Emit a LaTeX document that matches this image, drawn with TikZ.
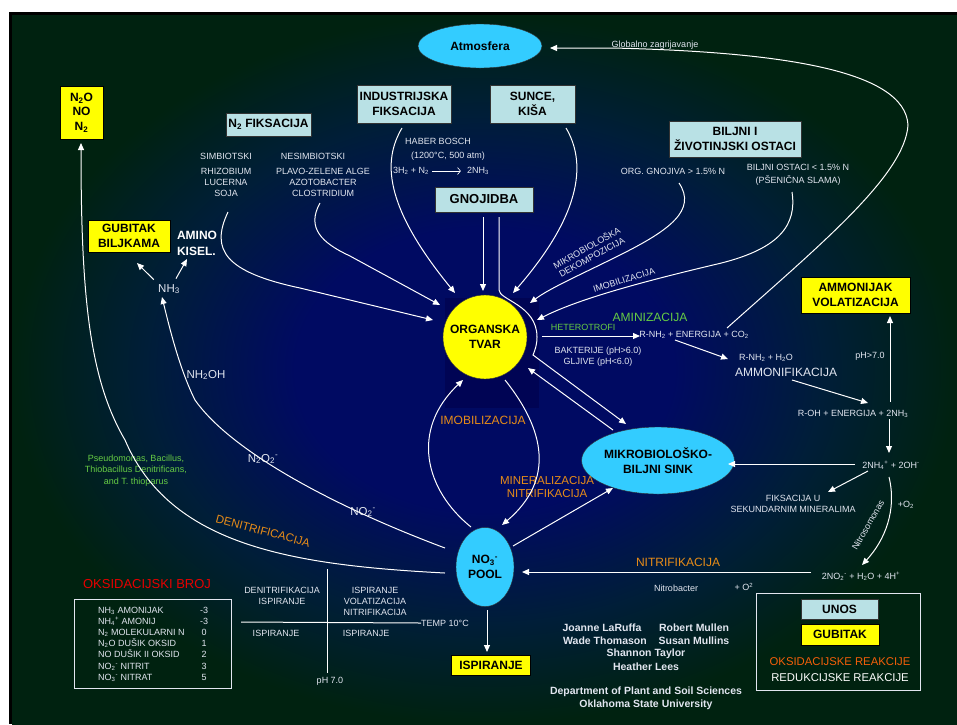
\documentclass[tikz,border=0pt]{standalone}
\usepackage{fontspec}
\setmainfont{Liberation Sans}
\usetikzlibrary{arrows.meta,shapes.geometric}

\definecolor{bgnavy}{RGB}{0,10,98}
\definecolor{bgteal}{RGB}{0,30,56}
\definecolor{bggreen}{RGB}{0,34,16}
\definecolor{omshade}{RGB}{0,4,84}
\definecolor{poolcyan}{RGB}{51,204,255}
\definecolor{inputblue}{RGB}{185,225,229}
\definecolor{lossyellow}{RGB}{255,255,0}
\definecolor{procorange}{RGB}{232,140,24}
\definecolor{bugsgreen}{RGB}{102,204,68}
\definecolor{oxred}{RGB}{230,0,0}
\definecolor{oxorange}{RGB}{245,95,10}
\definecolor{notegrey}{RGB}{226,230,240}

\pgfdeclareradialshading{slidebg}{\pgfpoint{0bp}{0bp}}{color(0bp)=(bgnavy); color(10bp)=(bgnavy); color(18bp)=(bgteal); color(25bp)=(bggreen); color(50bp)=(bggreen)}

\tikzset{
  flow/.style={draw=white, line width=1pt, -{Triangle[length=7pt,width=6pt]}},
  bare/.style={draw=white, line width=1pt},
  inbox/.style={draw=black!80, fill=inputblue, line width=0.8pt, inner sep=0pt, align=center, font=\bfseries\fontsize{12}{14.5}\selectfont},
  lossbox/.style={inbox, fill=lossyellow, draw=black},
  pool/.style={ellipse, draw=black!80, fill=poolcyan, inner sep=0pt, align=center, font=\bfseries\fontsize{12}{14.5}\selectfont},
  note/.style={text=notegrey, inner sep=0pt, align=center, font=\fontsize{9}{11}\selectfont},
  chem/.style={text=notegrey, inner sep=0pt, font=\fontsize{11.5}{13}\selectfont},
  stage/.style={text=procorange, inner sep=0pt, align=center, font=\fontsize{12}{13.5}\selectfont},
  credit/.style={text=notegrey, inner sep=0pt, font=\bfseries\fontsize{10.5}{12}\selectfont},
}

\begin{document}
\begin{tikzpicture}[x=1pt, y=-1pt]
    \useasboundingbox (0,0) rectangle (957,724);
    \fill [black] (9,12) rectangle (957,724);
    \shade [shading=slidebg] (12,15) rectangle (957,724);
    \fill [omshade] (445,298) rectangle (539,408);

    \path node (atm) at (480,46) [pool, minimum width=124pt, minimum height=44pt] {Atmosfera}
          node (gases) at (81.5,112.5) [lossbox, minimum width=43pt, minimum height=53pt] {N\textsubscript{2}O\\NO\\N\textsubscript{2}}
          node (plantloss) at (129,236) [lossbox, minimum width=82pt, minimum height=32pt] {GUBITAK\\BILJKAMA}
          node (nfix) at (268.5,124.5) [inbox, minimum width=85pt, minimum height=23pt] {N\textsubscript{2} FIKSACIJA}
          node (indfix) at (404,104) [inbox, minimum width=94pt, minimum height=38pt] {INDUSTRIJSKA\\FIKSACIJA}
          node (rain) at (532.5,104) [inbox, minimum width=85pt, minimum height=38pt] {SUNCE,\\KIŠA}
          node (fert) at (484,199.5) [inbox, minimum width=98pt, minimum height=25pt, font=\bfseries\fontsize{13}{15}\selectfont] {GNOJIDBA}
          node (residue) at (735,139) [inbox, minimum width=132pt, minimum height=36pt] {BILJNI I\\ŽIVOTINJSKI OSTACI}
          node (volat) at (855.5,295) [lossbox, minimum width=109pt, minimum height=36pt] {AMMONIJAK\\VOLATIZACIJA}
          node (leach) at (491,665) [lossbox, minimum width=79pt, minimum height=20pt] {ISPIRANJE}
          node (om) at (485,337) [circle, draw=black!80, fill=lossyellow, minimum size=84pt, inner sep=0pt, align=center, font=\bfseries\fontsize{12}{14.5}\selectfont] {ORGANSKA\\TVAR}
          node (sink) at (658,460.5) [pool, minimum width=128pt, minimum height=67pt] {MIKROBIOLOŠKO-\\BILJNI SINK}
          node (nitrate) at (485,567) [pool, minimum width=58pt, minimum height=79pt] {NO\textsubscript{3}\textsuperscript{-}\\POOL};

    \path node (simb) at (226,156) [note] {SIMBIOTSKI}
          node (simblist) at (226,182) [note] {RHIZOBIUM\\LUCERNA\\SOJA}
          node (nesimb) at (313,156) [note] {NESIMBIOTSKI}
          node (nesimblist) at (323,182) [note] {PLAVO-ZELENE ALGE\\AZOTOBACTER\\CLOSTRIDIUM}
          node (haber) at (438,141) [note] {HABER BOSCH}
          node (haberpt) at (448,156) [note] {(1200°C, 500 atm)}
          node (haberin) at (411,171) [note] {3H\textsubscript{2} + N\textsubscript{2}}
          node (haberout) at (478,171) [note] {2NH\textsubscript{3}}
          node (warming) at (655,45) [note] {Globalno zagrijavanje}
          node (manure) at (673,171) [note] {ORG. GNOJIVA > 1.5\% N}
          node (straw) at (798,175) [note, font=\fontsize{9}{13}\selectfont] {BILJNI OSTACI < 1.5\% N\\(PŠENIČNA SLAMA)}
          node (decomp) at (589,252) [note, rotate=29, font=\fontsize{9}{10.5}\selectfont] {MIKROBIOLOŠKA\\DEKOMPOZICIJA}
          node (immob) at (624,280) [note, rotate=17] {IMOBILIZACIJA};

    \path node (hetero) at (583,327) [note, text=bugsgreen] {HETEROTROFI}
          node (aminiz) at (650,317) [stage, text=bugsgreen] {AMINIZACIJA}
          node (rnh2) at (694,335) [note] {R-NH\textsubscript{2} + ENERGIJA + CO\textsubscript{2}}
          node (microbes) at (598,356.5) [note] {BAKTERIJE (pH>6.0)\\GLJIVE (pH<6.0)}
          node (rnh2w) at (766,358) [note] {R-NH\textsubscript{2} + H\textsubscript{2}O}
          node (ammonif) at (786,372) [stage, text=notegrey] {AMMONIFIKACIJA}
          node (roh) at (853,414) [note] {R-OH + ENERGIJA + 2NH\textsubscript{3}}
          node (phhigh) at (870,356) [note] {pH>7.0}
          node (nh4) at (891,465) [note] {2NH\textsubscript{4}\textsuperscript{+} + 2OH\textsuperscript{-}}
          node (mineralfix) at (793,504) [note] {FIKSACIJA U\\SEKUNDARNIM MINERALIMA}
          node (nitroso) at (868,525) [note, rotate=60] {Nitrosomonas}
          node (oxygen) at (906,505) [note] {+O\textsubscript{2}}
          node (no2) at (861,576) [note] {2NO\textsubscript{2}\textsuperscript{-} + H\textsubscript{2}O + 4H\textsuperscript{+}}
          node (nitrif) at (678,562) [stage] {NITRIFIKACIJA}
          node (nitrobac) at (676,588) [note] {Nitrobacter}
          node (oxsup) at (744,587) [note] {+ O\textsuperscript{2}}
          node (mineral) at (547,487) [stage, font=\fontsize{11.5}{13.5}\selectfont] {MINERALIZACIJA\\NITRIFIKACIJA}
          node (immobc) at (483,420) [stage] {IMOBILIZACIJA}
          node (denit) at (263,531) [stage, rotate=-15, font=\fontsize{11.5}{13}\selectfont] {DENITRIFICACIJA};

    \path node (nh3) at (169,289) [chem] {NH\textsubscript{3}}
          node (aminoacid) at (197,243) [text=white, inner sep=0pt, align=left, font=\bfseries\fontsize{12}{16}\selectfont] {AMINO\\KISEL.}
          node (nh2oh) at (206,375) [chem] {NH\textsubscript{2}OH}
          node (n2o2) at (263,459) [chem] {N\textsubscript{2}O\textsubscript{2}\textsuperscript{-}}
          node (no2b) at (363,512) [chem] {NO\textsubscript{2}\textsuperscript{-}}
          node (bugs) at (136,470.5) [note, text=bugsgreen, font=\fontsize{9}{11.5}\selectfont] {Pseudomonas, Bacillus,\\Thiobacillus Denitrificans,\\and T. thioparus};

    \path node (oxtitle) at (147,584) [text=oxred, inner sep=0pt, font=\fontsize{13}{15}\selectfont] {OKSIDACIJSKI BROJ}
          node (oxtable) at (98,644.5) [anchor=west, text=notegrey, inner sep=0pt, font=\fontsize{9}{11.2}\selectfont]
            {\begin{tabular}{@{}p{100pt}@{}l@{}}
             NH\textsubscript{3} AMONIJAK & \makebox[12pt]{-3}\\
             NH\textsubscript{4}\textsuperscript{+} AMONIJ & \makebox[12pt]{-3}\\
             N\textsubscript{2} MOLEKULARNI N & \makebox[12pt]{0}\\
             N\textsubscript{2}O DUŠIK OKSID & \makebox[12pt]{1}\\
             NO DUŠIK II OKSID & \makebox[12pt]{2}\\
             NO\textsubscript{2}\textsuperscript{-} NITRIT & \makebox[12pt]{3}\\
             NO\textsubscript{3}\textsuperscript{-} NITRAT & \makebox[12pt]{5}
             \end{tabular}}
          node (q1) at (282,595.5) [note] {DENITRIFIKACIJA\\ISPIRANJE}
          node (q2) at (375,601) [note] {ISPIRANJE\\VOLATIZACIJA\\NITRIFIKACIJA}
          node (q3) at (276,633) [note] {ISPIRANJE}
          node (q4) at (366,633) [note] {ISPIRANJE}
          node (temp) at (421,623) [note, anchor=west] {TEMP 10°C}
          node (ph) at (330,681) [note] {pH 7.0};
    \draw [notegrey, line width=0.8pt] (74,599) rectangle (231,688);

    \path node (author1) at (602,628) [credit] {Joanne LaRuffa}
          node (author2) at (694,628) [credit] {Robert Mullen}
          node (author3) at (605,641) [credit] {Wade Thomason}
          node (author4) at (694,641) [credit] {Susan Mullins}
          node (author5) at (646,654) [credit] {Shannon Taylor}
          node (author6) at (646,667) [credit] {Heather Lees}
          node (dept) at (646,692) [credit] {Department of Plant and Soil Sciences}
          node (univ) at (646,705) [credit] {Oklahoma State University};

    \draw [notegrey, line width=0.8pt] (756,593) rectangle (920,690);
    \path node (unos) at (839.5,609) [inbox, minimum width=77pt, minimum height=20pt] {UNOS}
          node (gubitak) at (840,634.5) [lossbox, minimum width=78pt, minimum height=21pt] {GUBITAK}
          node (oxreact) at (840,662) [text=oxorange, inner sep=0pt, font=\fontsize{11.3}{13}\selectfont] {OKSIDACIJSKE REAKCIJE}
          node (redreact) at (840,678) [text=white, inner sep=0pt, font=\fontsize{11.3}{13}\selectfont] {REDUKCIJSKE REAKCIJE};

    \path coordinate (simbfoot) at (228,212)
          coordinate (simbtip) at (433,320)
          coordinate (nesimbfoot) at (320,203)
          coordinate (nesimbtip) at (440,305)
          coordinate (indfixfoot) at (402,128)
          coordinate (indfixtip) at (455,293)
          coordinate (rainfoot) at (566,128)
          coordinate (raintip) at (513,293)
          coordinate (fertleft) at (483,217)
          coordinate (ferttip) at (483,291)
          coordinate (fertright) at (499,217)
          coordinate (manurefoot) at (679,183)
          coordinate (manuretip) at (530,303)
          coordinate (strawfoot) at (792,192)
          coordinate (strawtip) at (537,320)
          coordinate (warmfoot) at (727,328)
          coordinate (atmtip) at (550,48)
          coordinate (omout) at (542,336)
          coordinate (aminotip) at (640,336)
          coordinate (aminofoot) at (675,340)
          coordinate (ammontip) at (728,359)
          coordinate (ammonfoot) at (792,380)
          coordinate (rohtip) at (868,403)
          coordinate (rohup) at (890,402)
          coordinate (volattip) at (890,316)
          coordinate (rohdown) at (889,419)
          coordinate (nh4tip) at (889,453)
          coordinate (nh4left) at (855,464)
          coordinate (sinktip) at (728,464)
          coordinate (nh4fixfoot) at (868,471)
          coordinate (fixtip) at (828,492)
          coordinate (nh4foot) at (889,477)
          coordinate (no2tip) at (862,565)
          coordinate (no2left) at (811,572)
          coordinate (pooltip) at (522,572)
          coordinate (sinkin) at (626,424)
          coordinate (sinkout) at (613,430)
          coordinate (omin) at (528,368)
          coordinate (poolout) at (513,546)
          coordinate (sinkbelow) at (613,488)
          coordinate (imobfoot) at (471,527)
          coordinate (imobtip) at (463,380)
          coordinate (minerfoot) at (505,380)
          coordinate (minertip) at (502,525)
          coordinate (denitfoot) at (445,573)
          coordinate (gasestip) at (81,143)
          coordinate (nitrfoot) at (445,548)
          coordinate (nh3tip) at (162,297)
          coordinate (leachfoot) at (487,610)
          coordinate (leachtip) at (487,652)
          coordinate (plantlosstip) at (137,263)
          coordinate (aminoacidtip) at (187,259)
          coordinate (templeft) at (241,622)
          coordinate (phtop) at (327,569)
          coordinate (phfoot) at (327,673);

    \draw [flow] (simbfoot) .. controls (210,250) and (225,272) .. (300,288) -- (simbtip);
    \draw [flow] (nesimbfoot) .. controls (306,228) and (322,243) .. (350,256) -- (nesimbtip);
    \draw [flow] (indfixfoot) .. controls (383,160) and (383,205) .. (indfixtip);
    \draw [flow] (rainfoot) .. controls (585,160) and (585,210) .. (raintip);
    \draw [flow] (fertleft) -- (ferttip);
    \draw [flow] (fertright) -- (499,290) .. controls (499,300) and (537,305) .. (537,337) .. controls (537,345) and (535,350) .. (533,355) -- (sinkin);
    \draw [flow] (manurefoot) .. controls (697,210) and (670,230) .. (620,255) .. controls (580,275) and (550,288) .. (manuretip);
    \draw [flow] (strawfoot) .. controls (797,225) and (780,250) .. (713,265) .. controls (650,280) and (580,298) .. (strawtip);
    \draw [flow] (warmfoot) .. controls (820,245) and (905,175) .. (908,125) .. controls (905,70) and (780,52) .. (613,48) -- (atmtip);
    \draw [flow] (omout) -- (aminotip);
    \draw [flow] (aminofoot) -- (ammontip);
    \draw [flow] (ammonfoot) -- (rohtip);
    \draw [flow] (rohup) -- (volattip);
    \draw [flow] (rohdown) -- (nh4tip);
    \draw [flow] (nh4left) -- (sinktip);
    \draw [flow] (nh4fixfoot) -- (fixtip);
    \draw [flow] (nh4foot) .. controls (897,510) and (885,540) .. (no2tip);
    \draw [flow] (no2left) -- (pooltip);
    \draw [flow] (sinkout) -- (omin);
    \draw [flow] (poolout) -- (sinkbelow);
    \draw [flow] (imobfoot) .. controls (425,490) and (410,430) .. (imobtip);
    \draw [flow] (minerfoot) .. controls (545,430) and (555,480) .. (minertip);
    \draw [flow] (denitfoot) .. controls (290,565) and (170,545) .. (125,440) .. controls (90,380) and (81,300) .. (gasestip);
    \draw [flow] (nitrfoot) .. controls (330,505) and (230,450) .. (195,400) .. controls (180,370) and (170,330) .. (nh3tip);
    \draw [flow] (leachfoot) -- (leachtip);
    \draw [flow, shorten <=6pt] (nh3.north west) -- (plantlosstip);
    \draw [flow, shorten <=6pt] ([xshift=4pt]nh3.north) -- (aminoacidtip);
    \draw [white, line width=0.6pt, -{Straight Barb[length=3pt,width=7pt]}] ([xshift=3pt]haberin.east) -- ([xshift=-6pt]haberout.west);
    \draw [bare] (templeft) -- (temp.west);
    \draw [bare] (phtop) -- (phfoot);
\end{tikzpicture}
\end{document}
